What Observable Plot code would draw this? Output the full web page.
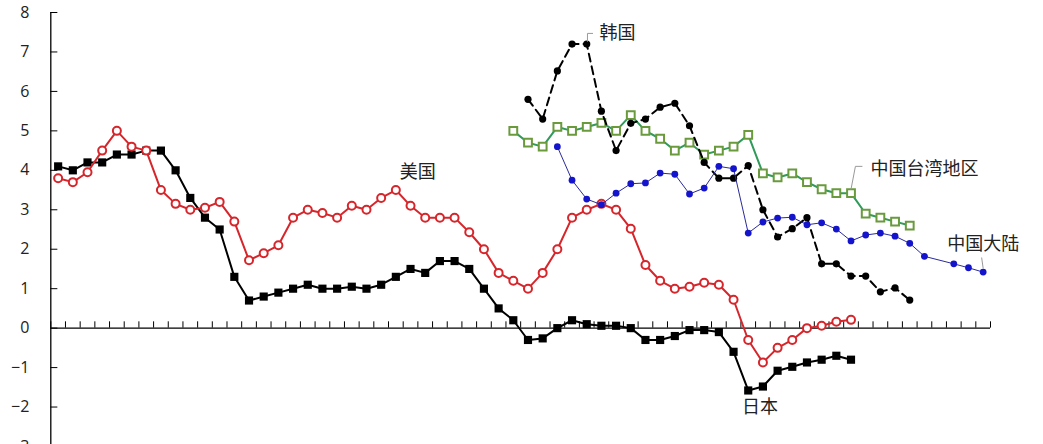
<!DOCTYPE html>
<html>
<head>
<meta charset="utf-8">
<script src="https://cdn.jsdelivr.net/npm/d3@7"></script>
<script src="https://cdn.jsdelivr.net/npm/@observablehq/plot@0.6"></script>
<style>
  html, body { margin: 0; padding: 0; background: #fff; overflow: hidden; }
  #chart svg { display: block; }
</style>
</head>
<body>
<div id="chart"></div>
<script>
// 64 periods (category index 0..63); null = no data
const N = 64;
const pad = (arr, start) => {
  const out = new Array(N).fill(null);
  arr.forEach((v, k) => { out[start + k] = v; });
  return out;
};

const japan = pad([4.1, 4.0, 4.2, 4.2, 4.4, 4.4, 4.5, 4.5, 4.0, 3.3, 2.8, 2.5, 1.3, 0.7, 0.8, 0.9, 1.0, 1.1, 1.0, 1.0,
  1.05, 1.0, 1.1, 1.3, 1.5, 1.4, 1.7, 1.7, 1.5, 1.0, 0.5, 0.2, -0.3, -0.26, 0.0, 0.2, 0.1, 0.06, 0.06, 0.0,
  -0.3, -0.3, -0.2, -0.05, -0.05, -0.1, -0.6, -1.58, -1.48, -1.08, -0.98, -0.87, -0.8, -0.7, -0.8], 0);

const usa = pad([3.8, 3.7, 3.95, 4.5, 5.0, 4.6, 4.5, 3.5, 3.15, 3.0, 3.05, 3.2, 2.7, 1.72, 1.9, 2.1, 2.8, 3.0, 2.92, 2.8,
  3.1, 3.0, 3.3, 3.5, 3.1, 2.8, 2.8, 2.8, 2.43, 2.0, 1.4, 1.2, 1.0, 1.4, 2.0, 2.8, 3.0, 3.15, 3.0, 2.52,
  1.6, 1.2, 1.0, 1.05, 1.15, 1.1, 0.72, -0.3, -0.87, -0.5, -0.3, 0.0, 0.06, 0.16, 0.21], 0);

const korea = pad([5.8, 5.3, 6.52, 7.2, 7.2, 5.5, 4.5, 5.19, 5.3, 5.6, 5.7, 5.13, 4.2, 3.8, 3.8, 4.12,
  3.0, 2.31, 2.52, 2.8, 1.63, 1.63, 1.32, 1.32, 0.92, 1.02, 0.71], 32);

const taiwan = pad([5.0, 4.7, 4.6, 5.1, 5.0, 5.1, 5.2, 5.0, 5.4, 5.0, 4.8, 4.5, 4.7, 4.4, 4.5, 4.6, 4.9,
  3.92, 3.82, 3.92, 3.7, 3.52, 3.42, 3.42, 2.9, 2.8, 2.7, 2.6], 31);

const mainland = pad([4.6, 3.75, 3.27, 3.13, 3.42, 3.66, 3.68, 3.93, 3.9, 3.4, 3.55, 4.1, 4.04, 2.41, 2.69, 2.79,
  2.81, 2.62, 2.67, 2.51, 2.21, 2.36, 2.41, 2.33, 2.15, 1.82, null, 1.63, 1.53, 1.42], 34);

const yTicks = [-3, -2, -1, 0, 1, 2, 3, 4, 5, 6, 7, 8];
const boundaries = d3.range(0, N + 1).map(k => k - 0.5);

const labels = [
  {name: "美国", x: 24.5, y: 3.94},
  {name: "韩国", x: 38.1, y: 7.48},
  {name: "中国台湾地区", x: 59.0, y: 4.02},
  {name: "中国大陆", x: 63.0, y: 2.12},
  {name: "日本", x: 47.8, y: -2.0}
];

const pts = arr => arr.map((v, i) => ({i, v})).filter(d => d.v != null);

const leaderStyle = {stroke: "#999", strokeWidth: 1};

const chart = Plot.plot({
  width: 1043,
  height: 446,
  marginLeft: 50.3,
  marginRight: 53,
  marginTop: 12,
  marginBottom: 0,
  x: {domain: [-0.5, N - 0.5], axis: null},
  y: {domain: [-3, 8], axis: null},
  style: {fontFamily: "'Open Sans', 'Noto Sans', sans-serif", background: "#fff"},
  marks: [
    // axes
    Plot.ruleX([-0.5], {y1: -3, y2: 8, stroke: "#000", strokeWidth: 1.3}),
    Plot.ruleY(yTicks, {x1: -0.5, x2: -0.02, stroke: "#000", strokeWidth: 1}),
    Plot.axisY(yTicks, {tickSize: 0, tickPadding: 21.5, fontSize: 16, fill: "#222"}),
    Plot.ruleY([0], {x1: -0.5, x2: N - 0.5, stroke: "#000", strokeWidth: 1.3}),
    Plot.ruleX(boundaries, {y1: 0, y2: 0.16, stroke: "#000", strokeWidth: 1}),

    // Japan
    Plot.line(pts(japan), {x: "i", y: "v", stroke: "#000", strokeWidth: 2}),
    Plot.dot(pts(japan), {x: "i", y: "v", symbol: "square", r: 4.6, fill: "#000", stroke: "none"}),

    // USA
    Plot.line(pts(usa), {x: "i", y: "v", stroke: "#d6262b", strokeWidth: 2}),
    Plot.dot(pts(usa), {x: "i", y: "v", symbol: "circle", r: 4, fill: "#fff", stroke: "#d6262b", strokeWidth: 2}),

    // Taiwan
    Plot.line(pts(taiwan), {x: "i", y: "v", stroke: "#2f9a5a", strokeWidth: 2}),
    Plot.dot(pts(taiwan), {x: "i", y: "v", symbol: "square", r: 4.4, fill: "#fff", stroke: "#6a9a3c", strokeWidth: 2}),

    // Korea
    Plot.line(pts(korea), {x: "i", y: "v", stroke: "#000", strokeWidth: 2, strokeDasharray: "8,5"}),
    Plot.dot(pts(korea), {x: "i", y: "v", r: 3.6, fill: "#000", stroke: "none"}),

    // China mainland
    Plot.line(pts(mainland), {x: "i", y: "v", stroke: "#2a2a9a", strokeWidth: 1}),
    Plot.dot(pts(mainland), {x: "i", y: "v", r: 3.4, fill: "#1414cc", stroke: "none"}),

    // leader lines
    Plot.line([{x: 36.05, y: 7.27}, {x: 36.05, y: 7.47}, {x: 36.4, y: 7.47}], {x: "x", y: "y", ...leaderStyle}),
    Plot.line([{x: 54.0, y: 3.52}, {x: 54.3, y: 4.1}, {x: 54.75, y: 4.1}], {x: "x", y: "y", ...leaderStyle}),
    Plot.line([{x: 62.9, y: 1.78}, {x: 63.0, y: 1.52}], {x: "x", y: "y", ...leaderStyle}),

    // labels
    Plot.text(labels, {x: "x", y: "y", text: "name", fontSize: 18, fill: "#222",
      fontFamily: "'Noto Sans CJK SC', sans-serif", textAnchor: "middle"})
  ]
});

document.getElementById("chart").appendChild(chart);
</script>
</body>
</html>
